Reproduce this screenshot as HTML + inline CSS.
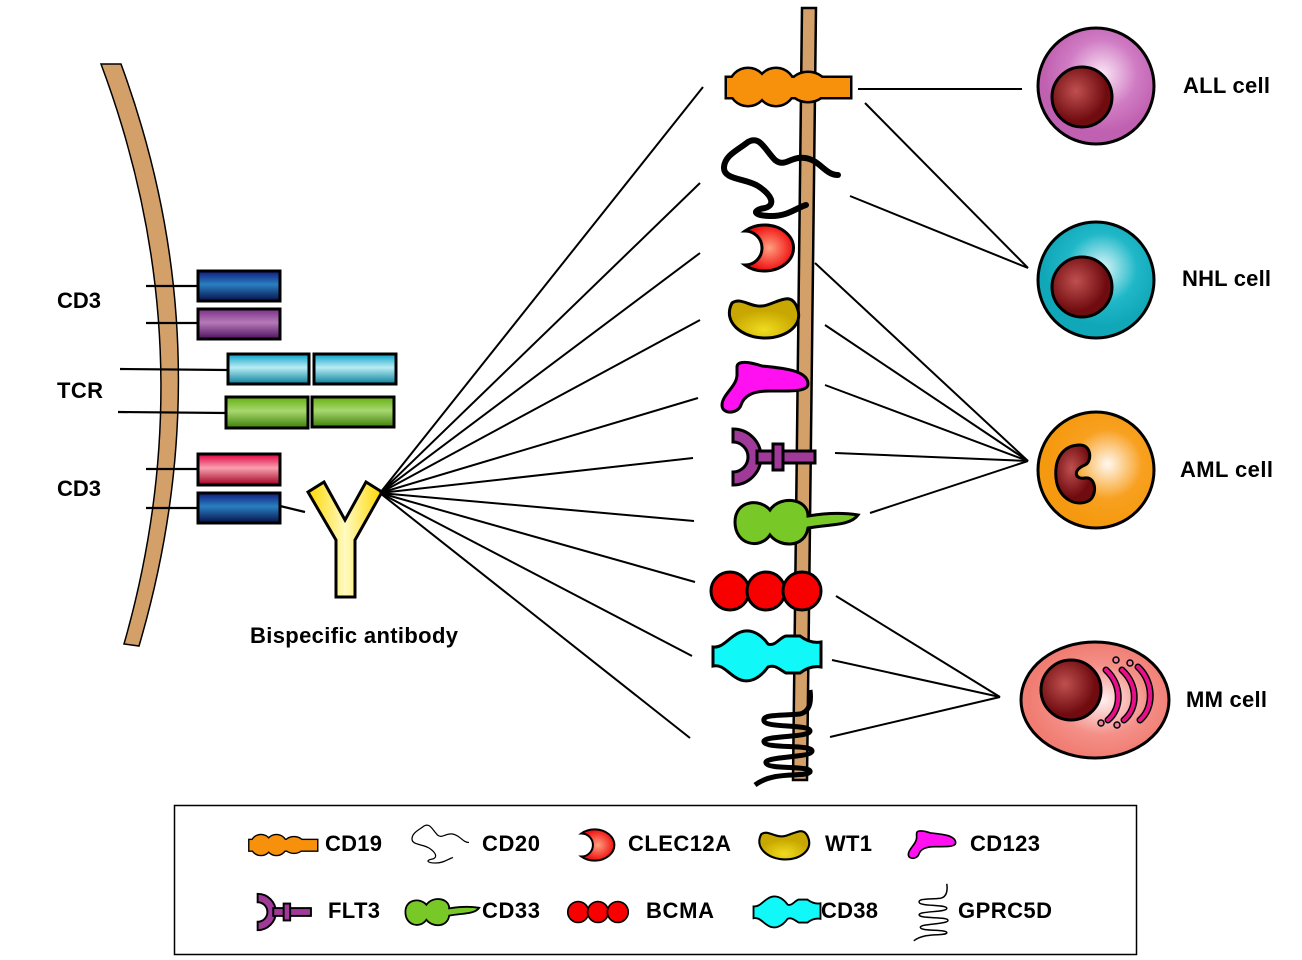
<!DOCTYPE html>
<html><head><meta charset="utf-8"><style>
html,body{margin:0;padding:0;background:#fff}
svg{display:block}
text{font-family:"Liberation Sans",Arial,sans-serif;font-weight:bold;fill:#000}
</style></head><body>
<svg width="1302" height="960" viewBox="0 0 1302 960" xmlns="http://www.w3.org/2000/svg">
<defs>
<linearGradient id="gb" x1="0" y1="0" x2="0" y2="1"><stop offset="0" stop-color="#101c80"/><stop offset=".45" stop-color="#2a7fc0"/><stop offset="1" stop-color="#06104a"/></linearGradient>
<linearGradient id="gp" x1="0" y1="0" x2="0" y2="1"><stop offset="0" stop-color="#7a2e88"/><stop offset=".45" stop-color="#b67ab8"/><stop offset="1" stop-color="#4e1060"/></linearGradient>
<linearGradient id="gc" x1="0" y1="0" x2="0" y2="1"><stop offset="0" stop-color="#0aa0c8"/><stop offset=".45" stop-color="#b8ecf4"/><stop offset="1" stop-color="#08809a"/></linearGradient>
<linearGradient id="gg" x1="0" y1="0" x2="0" y2="1"><stop offset="0" stop-color="#62b010"/><stop offset=".45" stop-color="#a8d870"/><stop offset="1" stop-color="#3e8008"/></linearGradient>
<linearGradient id="gr" x1="0" y1="0" x2="0" y2="1"><stop offset="0" stop-color="#e00040"/><stop offset=".45" stop-color="#f8a0b0"/><stop offset="1" stop-color="#a00020"/></linearGradient>
<linearGradient id="gy" x1="0" y1="0" x2="1" y2="0"><stop offset="0" stop-color="#ffd800"/><stop offset=".5" stop-color="#fffac0"/><stop offset="1" stop-color="#ffd800"/></linearGradient>
<radialGradient id="rr"><stop offset="0" stop-color="#ffa080"/><stop offset="1" stop-color="#f01010"/></radialGradient>
<radialGradient id="ry" cx=".5" cy=".8"><stop offset="0" stop-color="#f0dc20"/><stop offset="1" stop-color="#c8a800"/></radialGradient>
<radialGradient id="rn" cx=".4" cy=".4"><stop offset="0" stop-color="#c05050"/><stop offset="1" stop-color="#700c10"/></radialGradient>
<radialGradient id="c1" cx=".55" cy=".4"><stop offset="0" stop-color="#fbe8f6"/><stop offset=".6" stop-color="#d07cc4"/><stop offset="1" stop-color="#c060b0"/></radialGradient>
<radialGradient id="c2" cx=".55" cy=".4"><stop offset="0" stop-color="#e0f8fa"/><stop offset=".6" stop-color="#20b8c8"/><stop offset="1" stop-color="#10a8b8"/></radialGradient>
<radialGradient id="c3" cx=".6" cy=".45"><stop offset="0" stop-color="#fff8f0"/><stop offset=".6" stop-color="#f8a020"/><stop offset="1" stop-color="#f59a10"/></radialGradient>
<radialGradient id="c4" cx=".55" cy=".5"><stop offset="0" stop-color="#fff0f0"/><stop offset=".6" stop-color="#f49088"/><stop offset="1" stop-color="#f07c72"/></radialGradient>

<g id="cd19"><g stroke="#000" stroke-width="5" fill="#f7900a"><rect x="727" y="78" width="123" height="19"/><circle cx="748" cy="87" r="18"/><circle cx="776" cy="87" r="18"/><ellipse cx="808" cy="87" rx="18" ry="14"/></g><g fill="#f7900a"><rect x="727" y="78" width="123" height="19"/><circle cx="748" cy="87" r="18"/><circle cx="776" cy="87" r="18"/><ellipse cx="808" cy="87" rx="18" ry="14"/></g></g>
<g id="cd20"><path d="M838,175 C825,175 820,160 805,158 C790,156 785,168 775,160 C765,150 760,135 748,142 C738,150 725,155 724,167 C723,180 745,178 758,186 C772,195 776,205 765,208 C752,210 752,216 772,216 C788,216 796,208 806,205" fill="none" stroke="#000" stroke-width="6" stroke-linecap="round"/></g>
<g id="clec"><path d="M745,231 A29,23 0 1 1 745,265 A12,12 0 0 0 745,231 Z" fill="url(#rr)" stroke="#000" stroke-width="3"/></g>
<g id="wt1"><path d="M732,303 C742,296 752,310 767,305 C782,300 790,294 796,305 C806,325 786,338 765,338 C742,338 722,322 732,303 Z" fill="url(#ry)" stroke="#000" stroke-width="3"/></g>
<g id="cd123"><path d="M737,367 C737,360 750,362 762,366 C782,368 808,370 808,384 C808,392 790,391 770,391 C752,391 744,396 741,405 C738,414 722,415 722,405 C722,395 737,386 737,375 Z" fill="#ff10f0" stroke="#000" stroke-width="3"/></g>
<g id="flt3" stroke="#000" stroke-width="3" fill="#a03a98"><path d="M733,429 A28,28 0 0 1 733,485 L733,472 A15,15 0 0 0 733,442 Z"/><rect x="757" y="451" width="58" height="12"/><rect x="773" y="444" width="10" height="26"/></g>
<g id="cd33"><path d="M770,510 C780,495 808,498 808,516 C820,514 840,512 858,515 C850,526 830,524 808,528 C805,548 780,548 770,535 C760,550 735,545 735,522 C735,500 760,498 770,510 Z" fill="#78c828" stroke="#000" stroke-width="3"/></g>
<g id="bcma" fill="#f80000" stroke="#000" stroke-width="3"><circle cx="730" cy="591" r="19"/><circle cx="766" cy="591" r="19"/><circle cx="802" cy="591" r="19"/></g>
<g id="cd38"><path d="M713,647 C722,648 727,640 735,635 C748,626 760,633 768,644 C775,647 780,637 786,636 L800,636 C808,642 815,643 821,642 L821,667 C815,666 808,667 800,673 L786,673 C780,670 775,664 768,667 C760,678 748,686 735,677 C727,672 722,664 713,666 Z" fill="#10f8f8" stroke="#000" stroke-width="3"/></g>
<g id="gprc" fill="none" stroke="#000" stroke-width="5"><path d="M810,690 C812,705 808,712 800,714 C780,716 762,714 764,721 C766,728 810,724 810,731 C810,738 762,735 764,742 C766,749 812,744 812,751 C812,758 764,756 766,763 C768,770 812,765 810,772 C805,778 775,770 755,785"/></g>
</defs>

<path d="M101,64 Q208,350 124,644 L139,646 Q226,350 121,64 Z" fill="#d4a06a" stroke="#000" stroke-width="1.5"/>
<g stroke="#000" stroke-width="2.2">
<line x1="146" y1="286" x2="197" y2="286"/><line x1="146" y1="323" x2="197" y2="323"/>
<line x1="120" y1="369" x2="228" y2="370"/><line x1="118" y1="412" x2="226" y2="413"/>
<line x1="146" y1="469" x2="197" y2="469"/><line x1="146" y1="508" x2="197" y2="508"/>
<line x1="280" y1="506" x2="305" y2="512"/>
</g>
<g stroke="#000" stroke-width="3">
<rect x="198" y="271" width="82" height="30" fill="url(#gb)"/>
<rect x="198" y="309" width="82" height="30" fill="url(#gp)"/>
<rect x="228" y="354" width="81" height="30" fill="url(#gc)"/>
<rect x="314" y="354" width="82" height="30" fill="url(#gc)"/>
<rect x="226" y="397" width="82" height="31" fill="url(#gg)"/>
<rect x="312" y="397" width="82" height="30" fill="url(#gg)"/>
<rect x="198" y="454" width="82" height="31" fill="url(#gr)"/>
<rect x="198" y="493" width="82" height="30" fill="url(#gb)"/>
</g>
<text x="57" y="308" font-size="22" textLength="44">CD3</text>
<text x="57" y="398" font-size="22" textLength="46">TCR</text>
<text x="57" y="496" font-size="22" textLength="44">CD3</text>
<polygon points="308,492 324,482 345,520 366,482 382,492 355,540 355,597 336,597 336,540" fill="url(#gy)" stroke="#000" stroke-width="3"/>
<text x="250" y="643" font-size="22" textLength="208">Bispecific antibody</text>

<g stroke="#000" stroke-width="2">
<line x1="380" y1="493" x2="703" y2="87"/><line x1="380" y1="493" x2="700" y2="183"/>
<line x1="380" y1="493" x2="700" y2="253"/><line x1="380" y1="493" x2="700" y2="320"/>
<line x1="380" y1="493" x2="698" y2="398"/><line x1="380" y1="493" x2="693" y2="458"/>
<line x1="380" y1="493" x2="694" y2="521"/><line x1="380" y1="493" x2="695" y2="582"/>
<line x1="380" y1="493" x2="692" y2="656"/><line x1="380" y1="493" x2="690" y2="738"/>
<line x1="858" y1="89" x2="1022" y2="89"/><line x1="865" y1="103" x2="1028" y2="268"/>
<line x1="850" y1="196" x2="1028" y2="268"/>
<line x1="815" y1="263" x2="1028" y2="461"/><line x1="825" y1="325" x2="1028" y2="461"/>
<line x1="825" y1="385" x2="1028" y2="461"/><line x1="835" y1="453" x2="1028" y2="461"/>
<line x1="870" y1="513" x2="1028" y2="461"/>
<line x1="836" y1="596" x2="1000" y2="697"/><line x1="832" y1="660" x2="1000" y2="697"/>
<line x1="830" y1="737" x2="1000" y2="697"/>
</g>

<polygon points="802,8 816,8 807,780 793,780" fill="#d4a06a" stroke="#000" stroke-width="2.5"/>
<use href="#cd19"/><use href="#cd20"/><use href="#clec"/><use href="#wt1"/><use href="#cd123"/>
<use href="#flt3"/><use href="#cd33"/><use href="#bcma"/><use href="#cd38"/><use href="#gprc"/>

<circle cx="1096" cy="86" r="58" fill="url(#c1)" stroke="#000" stroke-width="3"/>
<circle cx="1082" cy="97" r="30" fill="url(#rn)" stroke="#000" stroke-width="3"/>
<circle cx="1096" cy="280" r="58" fill="url(#c2)" stroke="#000" stroke-width="3"/>
<circle cx="1082" cy="287" r="30" fill="url(#rn)" stroke="#000" stroke-width="3"/>
<circle cx="1096" cy="470" r="58" fill="url(#c3)" stroke="#000" stroke-width="3"/>
<path d="M1080,445 C1092,445 1092,462 1085,465 C1072,470 1075,480 1085,478 C1095,476 1098,493 1090,500 C1078,508 1058,500 1056,478 C1054,455 1066,445 1080,445 Z" fill="url(#rn)" stroke="#000" stroke-width="3"/>
<ellipse cx="1095" cy="700" rx="74" ry="58" fill="url(#c4)" stroke="#000" stroke-width="3"/>
<circle cx="1071" cy="690" r="30" fill="url(#rn)" stroke="#000" stroke-width="3"/>
<g fill="none" stroke="#000" stroke-width="7" stroke-linecap="round"><path d="M1106,670 C1122,685 1122,708 1108,720"/><path d="M1122,670 C1138,685 1138,708 1124,720"/><path d="M1138,667 C1154,682 1154,708 1140,720"/></g>
<g fill="none" stroke="#e8108a" stroke-width="4" stroke-linecap="round"><path d="M1106,670 C1122,685 1122,708 1108,720"/><path d="M1122,670 C1138,685 1138,708 1124,720"/><path d="M1138,667 C1154,682 1154,708 1140,720"/></g>
<g fill="#f080a0" stroke="#000" stroke-width="1.5"><circle cx="1116" cy="660" r="3"/><circle cx="1130" cy="663" r="3"/><circle cx="1101" cy="723" r="3"/><circle cx="1117" cy="725" r="3"/></g>
<g font-size="22">
<text x="1183" y="93" textLength="87">ALL cell</text>
<text x="1182" y="286" textLength="89">NHL cell</text>
<text x="1180" y="477" textLength="93">AML cell</text>
<text x="1186" y="707" textLength="81">MM cell</text>
</g>

<rect x="174.5" y="805.5" width="962" height="149" fill="#fff" stroke="#000" stroke-width="1.5"/>
<use href="#cd19" transform="translate(283,845) scale(.55) translate(-788,-87)"/>
<g transform="translate(440,845) scale(.5) translate(-780,-180)"><path d="M838,175 C825,175 820,160 805,158 C790,156 785,168 775,160 C765,150 760,135 748,142 C738,150 725,155 724,167 C723,180 745,178 758,186 C772,195 776,205 765,208 C752,210 752,216 772,216 C788,216 796,208 806,205" fill="none" stroke="#000" stroke-width="2.5"/></g>
<use href="#clec" transform="translate(597,845) scale(.68) translate(-768,-248)"/>
<use href="#wt1" transform="translate(785,845) scale(.72) translate(-765,-318)"/>
<use href="#cd123" transform="translate(932,845) scale(.55) translate(-765,-388)"/>
<use href="#flt3" transform="translate(283,912) scale(.65) translate(-772,-457)"/>
<use href="#cd33" transform="translate(442,912) scale(.6) translate(-796,-522)"/>
<use href="#bcma" transform="translate(598,912) scale(.55) translate(-766,-591)"/>
<use href="#cd38" transform="translate(787,912) scale(.62) translate(-767,-656)"/>
<g transform="translate(933,912) scale(.6) translate(-787,-737)"><path d="M810,690 C812,705 808,712 800,714 C780,716 762,714 764,721 C766,728 810,724 810,731 C810,738 762,735 764,742 C766,749 812,744 812,751 C812,758 764,756 766,763 C768,770 812,765 810,772 C805,778 775,770 755,785" fill="none" stroke="#000" stroke-width="2.5"/></g>
<g font-size="22">
<text x="325" y="851" textLength="57">CD19</text><text x="482" y="851" textLength="58">CD20</text><text x="628" y="851" textLength="103">CLEC12A</text><text x="825" y="851" textLength="47">WT1</text><text x="970" y="851" textLength="70">CD123</text>
<text x="328" y="918" textLength="52">FLT3</text><text x="482" y="918" textLength="58">CD33</text><text x="646" y="918" textLength="68">BCMA</text><text x="821" y="918" textLength="57">CD38</text><text x="958" y="918" textLength="94">GPRC5D</text>
</g>
</svg>
</body></html>
